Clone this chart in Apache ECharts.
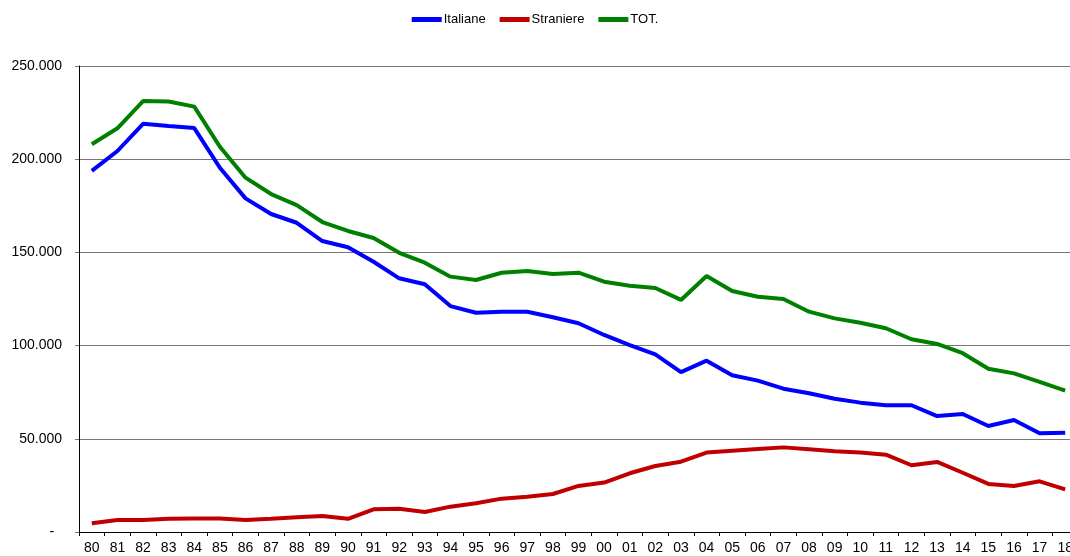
<!DOCTYPE html>
<html>
<head>
<meta charset="utf-8">
<script src="https://cdn.jsdelivr.net/npm/echarts@6/dist/echarts.min.js"></script>
<style>
html,body{margin:0;padding:0;background:#fff;}
#chart{width:1070px;height:556px;}
</style>
</head>
<body>
<div id="chart"></div>
<script>
const years = ['80','81','82','83','84','85','86','87','88','89','90','91','92','93','94','95','96','97','98','99','00','01','02','03','04','05','06','07','08','09','10','11','12','13','14','15','16','17','18'];
const italiane = [193700,204400,219000,217800,216700,195400,179000,170600,165900,156100,152800,145000,136100,132900,121200,117600,118200,118200,115200,112000,105700,100200,95300,85800,91900,84100,81200,76900,74400,71500,69400,68000,68000,62200,63300,56900,60100,53000,53300];
const straniere = [4700,6400,6400,7100,7300,7300,6400,7100,7900,8600,7100,12200,12500,10700,13600,15400,17900,18900,20400,24700,26500,31500,35400,37700,42600,43600,44500,45400,44400,43300,42600,41500,35800,37600,31800,25800,24700,27200,22900];
const tot = [208000,216600,231200,231000,228200,206700,190100,181300,175400,166300,161500,157700,149800,144500,137000,135200,139100,140000,138400,139100,134300,132100,130900,124500,137300,129300,126200,125000,118200,114600,112300,109300,103400,100900,95900,87600,85100,80500,75800];
const seriesNames = ['Italiane','Straniere','TOT.'];
const colors = ['#0000FF','#C00000','#008000'];

const chart = echarts.init(document.getElementById('chart'));
const fmt = v => v === 0 ? '-  ' : v.toString().replace(/\B(?=(\d{3})+(?!\d))/g, '.');
const mk = (name, data, color) => ({
  name, type: 'line', data, symbol: 'none', smooth: false,
  lineStyle: {color, width: 4}, itemStyle: {color}
});
chart.setOption({
  animation: false,
  backgroundColor: '#fff',
  textStyle: {fontFamily: 'Liberation Sans, Arial, sans-serif'},
  legend: {
    top: 8, left: 'center',
    itemWidth: 30, itemHeight: 5, itemGap: 14,
    icon: 'rect',
    textStyle: {fontSize: 13, color: '#000', fontFamily: 'Liberation Sans, Arial, sans-serif', padding: [0,0,0,-3]},
    data: seriesNames
  },
  grid: {left: 79, top: 66, width: 999, height: 466, containLabel: false, outerBoundsMode: 'none'},
  xAxis: {
    type: 'category', data: years, boundaryGap: true,
    axisLine: {lineStyle: {color: '#000', width: 1}},
    axisTick: {show: true, length: 4, lineStyle: {color: '#000'}, alignWithLabel: false},
    axisLabel: {fontSize: 14, color: '#000', margin: 9, interval: 0, fontFamily: 'Liberation Sans, Arial, sans-serif'},
    splitLine: {show: false}
  },
  yAxis: {
    type: 'value', min: 0, max: 250000, interval: 50000,
    axisLine: {show: true, lineStyle: {color: '#000', width: 1}},
    axisTick: {show: true, length: 4, lineStyle: {color: '#777'}},
    axisLabel: {fontSize: 14, color: '#000', margin: 17, formatter: fmt, fontFamily: 'Liberation Sans, Arial, sans-serif'},
    splitLine: {show: true, lineStyle: {color: '#777', width: 1}}
  },
  series: [
    mk(seriesNames[0], italiane, colors[0]),
    mk(seriesNames[1], straniere, colors[1]),
    mk(seriesNames[2], tot, colors[2])
  ]
});
</script>
</body>
</html>
